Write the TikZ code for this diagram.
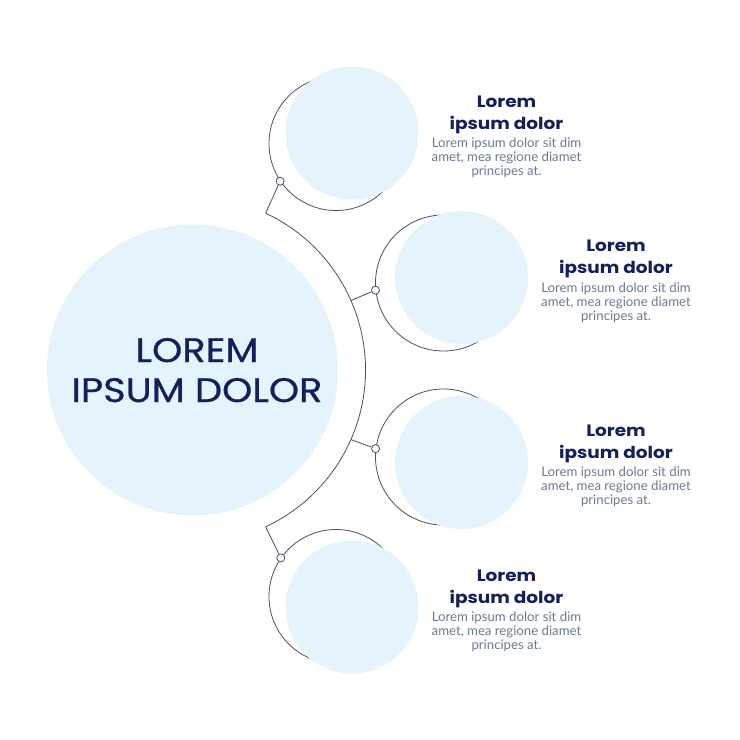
\documentclass[tikz,border=0pt]{standalone}
\usepackage{fontspec}
\setmainfont{Lato}
\newfontfamily\headfont{Poppins}[FakeStretch=1.12]
\newfontfamily\bigfont{Poppins}[FakeStretch=1.13,FakeBold=0.7]
\usetikzlibrary{calc}
\definecolor{fillc}{HTML}{E4F3FC}
\definecolor{linec}{HTML}{4A4E69}
\definecolor{navy}{HTML}{14205A}
\definecolor{bodyc}{HTML}{6B7A93}
\begin{document}
\begin{tikzpicture}[x=1pt,y=-1pt,
  bub/.style={circle,fill=fillc,inner sep=0pt,minimum size=133pt},
  ring/.style={circle,draw=linec,line width=0.8pt,inner sep=0pt},
  dotc/.style={circle,draw=linec,fill=white,line width=0.8pt,inner sep=0pt,minimum size=8pt},
  wire/.style={draw=linec,line width=0.8pt},
  ttl/.style={anchor=base,text=navy,font=\headfont\bfseries\fontsize{16.5}{20}\selectfont,inner sep=0pt},
  txt/.style={anchor=base,text=bodyc,font=\fontsize{13.2}{15}\selectfont,inner sep=0pt},
  bigt/.style={anchor=base,text=navy,font=\bigfont\fontsize{34}{40}\selectfont,inner sep=0pt}]
\useasboundingbox (0,0) rectangle (740,740);
\fill[white] (0,0) rectangle (740,740);
% rings
\node[ring,minimum size=134pt] (r1) at (336,143.5) {};
\node[ring,minimum size=136pt] (r2) at (443.5,283) {};
\node[ring,minimum size=136pt] (r3) at (443.5,457) {};
\node[ring,minimum size=134pt] (r4) at (336,596.5) {};
% bubbles
\node[bub] (b1) at (352,133) {};
\node[bub] (b2) at (461.5,277.5) {};
\node[bub] (b3) at (461.5,462.5) {};
\node[bub] (b4) at (352,607) {};
\node[bub,minimum size=291pt] (big) at (192.5,370) {};
% spine
\coordinate (bc) at (192.5,370);
\coordinate (k1) at ($(bc)+(65:173pt)$);
\coordinate (k2) at ($(bc)+(23.7:173pt)$);
\coordinate (k3) at ($(bc)+(-23.7:173pt)$);
\coordinate (k4) at ($(bc)+(-65:173pt)$);
\draw[wire] (k1) arc[start angle=65,end angle=-65,radius=173pt];
% dots
\node[dotc] (d1) at (r1.214.3) {};
\node[dotc] (d2) at (r2.186.5) {};
\node[dotc] (d3) at (r3.173.5) {};
\node[dotc] (d4) at (r4.145.7) {};
\draw[wire] (k1) -- (d1);
\draw[wire] (k2) -- (d2);
\draw[wire] (k3) -- (d3);
\draw[wire] (k4) -- (d4);
% big text
\node[bigt] (bt1) at (197,362) {LOREM};
\node[bigt] (bt2) at (197,402) {IPSUM DOLOR};
% block 1
\node[ttl] (t1a) at (506.5,107.5) {Lorem};
\node[ttl] (t1b) at (506.5,129.5) {ipsum dolor};
\node[txt] (p1a) at (506.5,147.5) {Lorem ipsum dolor sit dim};
\node[txt] (p1b) at (506.5,161.5) {amet, mea regione diamet};
\node[txt] (p1c) at (506.5,175.5) {principes at.};
% block 2
\node[ttl] (t2a) at (616,251) {Lorem};
\node[ttl] (t2b) at (616,273) {ipsum dolor};
\node[txt] (p2a) at (616,292) {Lorem ipsum dolor sit dim};
\node[txt] (p2b) at (616,306) {amet, mea regione diamet};
\node[txt] (p2c) at (616,320) {principes at.};
% block 3
\node[ttl] (t3a) at (616,436) {Lorem};
\node[ttl] (t3b) at (616,458) {ipsum dolor};
\node[txt] (p3a) at (616,476) {Lorem ipsum dolor sit dim};
\node[txt] (p3b) at (616,490) {amet, mea regione diamet};
\node[txt] (p3c) at (616,504) {principes at.};
% block 4
\node[ttl] (t4a) at (506.5,581) {Lorem};
\node[ttl] (t4b) at (506.5,603) {ipsum dolor};
\node[txt] (p4a) at (506.5,621) {Lorem ipsum dolor sit dim};
\node[txt] (p4b) at (506.5,635) {amet, mea regione diamet};
\node[txt] (p4c) at (506.5,649) {principes at.};
\end{tikzpicture}
\end{document}
